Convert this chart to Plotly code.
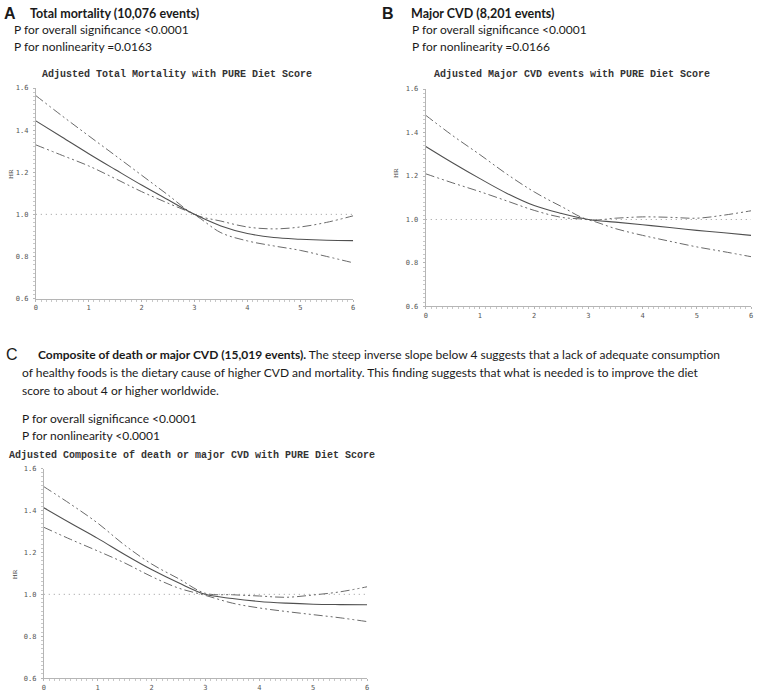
import plotly.graph_objects as go

W, H = 758, 696

# ---- data ----
x_score = [0, 0.5, 1, 1.5, 2, 2.5, 3, 3.5, 4, 4.5, 5, 5.5, 6]

hr_A = [1.444, 1.366, 1.288, 1.213, 1.139, 1.069, 1.0, 0.945, 0.909, 0.890, 0.882, 0.877, 0.875]
up_A = [1.564, 1.467, 1.373, 1.280, 1.186, 1.092, 1.0, 0.968, 0.940, 0.931, 0.940, 0.962, 0.993]
lo_A = [1.330, 1.280, 1.230, 1.170, 1.108, 1.053, 0.998, 0.913, 0.874, 0.850, 0.829, 0.800, 0.770]

hr_B = [1.336, 1.260, 1.188, 1.120, 1.064, 1.028, 1.0, 0.988, 0.976, 0.963, 0.950, 0.939, 0.927]
up_B = [1.479, 1.385, 1.298, 1.208, 1.127, 1.060, 1.0, 1.006, 1.012, 1.010, 1.006, 1.020, 1.040]
lo_B = [1.210, 1.168, 1.128, 1.085, 1.042, 1.010, 0.998, 0.958, 0.927, 0.900, 0.874, 0.852, 0.829]

hr_C = [1.413, 1.339, 1.267, 1.190, 1.118, 1.055, 1.0, 0.980, 0.966, 0.958, 0.953, 0.951, 0.950]
up_C = [1.514, 1.430, 1.340, 1.235, 1.145, 1.075, 1.005, 0.998, 0.992, 0.986, 0.997, 1.012, 1.036]
lo_C = [1.320, 1.262, 1.207, 1.150, 1.085, 1.030, 0.995, 0.958, 0.935, 0.918, 0.903, 0.888, 0.870]

x_ticks = [0, 1, 2, 3, 4, 5, 6]
y_ticks = [0.6, 0.8, 1.0, 1.2, 1.4, 1.6]
y_ticklabels = ["0.6", "0.8", "1.0", "1.2", "1.4", "1.6"]

chart_titles = [
    "Adjusted Total Mortality with PURE Diet Score",
    "Adjusted Major CVD events with PURE Diet Score",
    "Adjusted Composite of death or major CVD with PURE Diet Score",
]

# ---- layout helpers (pixel boxes) ----
def px_x(p):
    return p / W

def px_y(p):
    return 1 - p / H

panels = [
    # (x0, x1, ytop, ybottom) in pixels
    (34, 353, 85, 298),
    (426, 753, 86, 306),
    (42, 367, 470, 682),
]
series = [(hr_A, up_A, lo_A), (hr_B, up_B, lo_B), (hr_C, up_C, lo_C)]

fig = go.Figure()
CI_DASH = "9px,3px,2px,3px,2px,3px"

for i, ((x0, x1, yt, yb), (hr, up, lo)) in enumerate(zip(panels, series)):
    n = "" if i == 0 else str(i + 1)
    xa, ya = "x" + n, "y" + n
    fig.add_trace(go.Scatter(x=[0, 6], y=[1, 1], mode="lines", xaxis=xa, yaxis=ya,
                             line=dict(color="#9a9a9a", width=1, dash="1px,4px"), hoverinfo="skip"))
    fig.add_trace(go.Scatter(x=x_score, y=up, mode="lines", xaxis=xa, yaxis=ya,
                             line=dict(color="#6a6a6a", width=1, dash=CI_DASH, shape="spline")))
    fig.add_trace(go.Scatter(x=x_score, y=lo, mode="lines", xaxis=xa, yaxis=ya,
                             line=dict(color="#6a6a6a", width=1, dash=CI_DASH, shape="spline")))
    fig.add_trace(go.Scatter(x=x_score, y=hr, mode="lines", xaxis=xa, yaxis=ya,
                             line=dict(color="#505050", width=1.1, shape="spline")))
    axis_common = dict(showline=True, linecolor="#b5b5b5", linewidth=1, ticks="outside",
                       ticklen=2, tickcolor="#b5b5b5", showgrid=False, zeroline=False,
                       ticklabeloverflow="allow",
                       tickfont=dict(family="DejaVu Sans Mono", size=7, color="#555555"))
    fig.layout["xaxis" + n] = dict(domain=[px_x(x0), px_x(x1)], range=[0, 6], anchor=ya,
                                   tickvals=x_ticks, ticktext=[str(t) for t in x_ticks],
                                   minor=dict(dtick=0.1, ticks="outside", ticklen=2, tickcolor="#c8c8c8"),
                                   **axis_common)
    fig.layout["yaxis" + n] = dict(domain=[px_y(yb), px_y(yt)], range=[0.6, 1.6], anchor=xa,
                                   tickvals=y_ticks, ticktext=y_ticklabels, ticklabelstandoff=3,
                                   minor=dict(dtick=0.02, ticks="outside", ticklen=2, tickcolor="#c8c8c8"),
                                   **axis_common)

annotations = []

def text(x, y, s, size=12, family="Lato", color="#1a1a1a", xanchor="left", angle=0):
    annotations.append(dict(x=px_x(x), y=px_y(y), xref="paper", yref="paper", text=s,
                            showarrow=False, xanchor=xanchor, yanchor="middle", textangle=angle,
                            font=dict(family=family, size=size, color=color)))

# Panel A header
text(0, 10, "<b>A</b>", size=16, family="Liberation Sans")
text(26, 10, "<b>Total mortality (10,076 events)</b>", size=12.5)
text(10, 26, "P for overall significance <0.0001", size=12)
text(10, 43, "P for nonlinearity =0.0163", size=12)
# Panel B header
text(380, 10, "<b>B</b>", size=16, family="Liberation Sans")
text(409, 10, "<b>Major CVD (8,201 events)</b>", size=12.5)
text(410, 26, "P for overall significance <0.0001", size=12)
text(410, 43, "P for nonlinearity =0.0166", size=12)
# Panel C header
text(2, 355, "C", size=16, family="Liberation Sans")
text(34, 355, "<b>Composite of death or major CVD (15,019 events).</b> The steep inverse slope below 4 suggests that a lack of adequate consumption", size=12)
text(18, 373, "of healthy foods is the dietary cause of higher CVD and mortality. This finding suggests that what is needed is to improve the diet", size=12)
text(18, 391, "score to about 4 or higher worldwide.", size=12)
text(18, 419, "P for overall significance <0.0001", size=12)
text(18, 437, "P for nonlinearity <0.0001", size=12)

# chart titles
text(176, 71, "<b>" + chart_titles[0] + "</b>", size=10, family="Liberation Mono", color="#333333", xanchor="center")
text(573, 71, "<b>" + chart_titles[1] + "</b>", size=10, family="Liberation Mono", color="#333333", xanchor="center")
text(191, 457, "<b>" + chart_titles[2] + "</b>", size=10, family="Liberation Mono", color="#333333", xanchor="center")

# HR axis labels
text(9, 172, "HR", size=7, family="Liberation Serif", color="#444444", xanchor="center", angle=-90)
text(396, 171, "HR", size=7, family="Liberation Serif", color="#444444", xanchor="center", angle=-90)
text(13, 577, "HR", size=7, family="Liberation Serif", color="#444444", xanchor="center", angle=-90)

fig.update_layout(width=W, height=H, margin=dict(l=0, r=0, t=0, b=0),
                  paper_bgcolor="white", plot_bgcolor="white", showlegend=False,
                  annotations=annotations)

fig.write_html("out.html", config={"displayModeBar": False},
               post_script="document.body.style.margin='0';document.body.style.overflow='hidden';")
